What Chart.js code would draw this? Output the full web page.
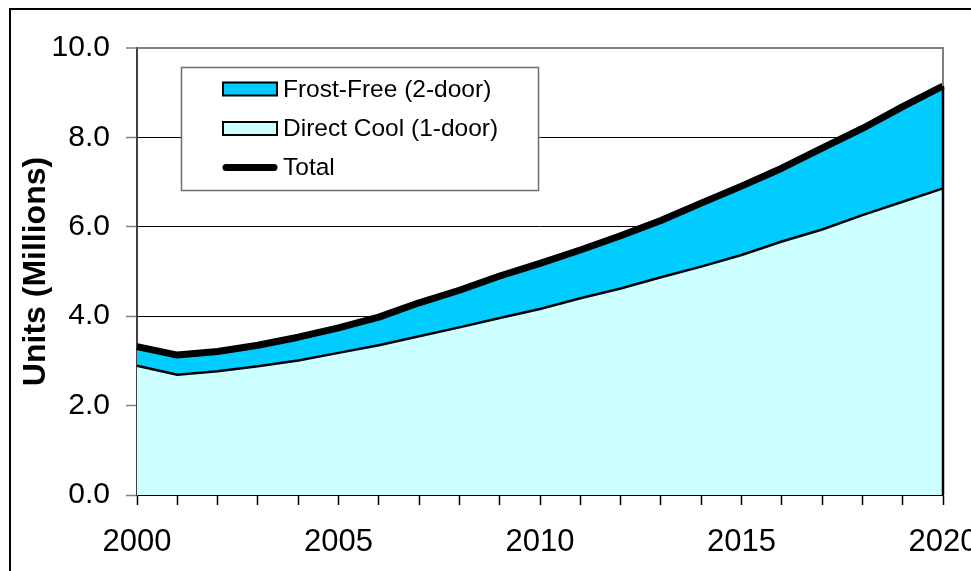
<!DOCTYPE html>
<html>
<head>
<meta charset="utf-8">
<title>Refrigerator Sales by Type</title>
<script src="https://cdn.jsdelivr.net/npm/chart.js@4.4.1/dist/chart.umd.min.js"></script>
<style>
  html, body { margin: 0; padding: 0; background: #ffffff; }
  #wrap { width: 971px; height: 571px; position: relative; }
</style>
</head>
<body>
<div id="wrap"><canvas id="chart" width="971" height="571"></canvas></div>
<script>
// Annual refrigerator unit sales, millions
const years = [2000, 2001, 2002, 2003, 2004, 2005, 2006, 2007, 2008, 2009, 2010,
               2011, 2012, 2013, 2014, 2015, 2016, 2017, 2018, 2019, 2020];
const directCool = [2.89, 2.69, 2.77, 2.88, 3.01, 3.18, 3.35, 3.55, 3.75, 3.96, 4.16,
                    4.40, 4.62, 4.87, 5.11, 5.37, 5.67, 5.94, 6.26, 6.56, 6.86];
const frostFree  = [0.43, 0.44, 0.44, 0.47, 0.52, 0.56, 0.63, 0.75, 0.83, 0.94, 1.02,
                    1.08, 1.18, 1.27, 1.42, 1.54, 1.64, 1.82, 1.94, 2.13, 2.29];
const total      = [3.32, 3.13, 3.21, 3.35, 3.53, 3.74, 3.98, 4.30, 4.58, 4.90, 5.18,
                    5.48, 5.80, 6.14, 6.53, 6.91, 7.31, 7.76, 8.20, 8.69, 9.15];
const yAxisTitle = 'Units (Millions)';
const seriesLabels = ['Direct Cool (1-door)', 'Frost-Free (2-door)', 'Total'];

Chart.defaults.font.family = "'Liberation Sans', Arial, sans-serif";
Chart.defaults.color = '#000000';

// Outer frame, plot border, area edge at the last year, and the boxed key
const framePlugin = {
  id: 'frame',
  afterDraw(chart) {
    const { ctx, chartArea: a, scales: { x, y } } = chart;
    ctx.save();

    // plot border (top and right)
    ctx.strokeStyle = '#808080';
    ctx.lineWidth = 2;
    ctx.beginPath();
    ctx.moveTo(a.left, a.top);
    ctx.lineTo(a.right, a.top);
    ctx.lineTo(a.right, a.bottom);
    ctx.stroke();

    // outline of the stacked areas at the final year
    const last = years.length - 1;
    const xe = x.getPixelForValue(last);
    ctx.strokeStyle = '#000000';
    ctx.lineWidth = 2.5;
    ctx.beginPath();
    ctx.moveTo(xe, y.getPixelForValue(total[last]));
    ctx.lineTo(xe, a.bottom);
    ctx.stroke();

    // outer chart frame
    ctx.strokeStyle = '#000000';
    ctx.lineWidth = 2;
    ctx.beginPath();
    ctx.moveTo(10, chart.height);
    ctx.lineTo(10, 9);
    ctx.lineTo(chart.width, 9);
    ctx.stroke();

    // key box
    const bx = 181, by = 67, bw = 357, bh = 123;
    ctx.fillStyle = '#ffffff';
    ctx.fillRect(bx, by, bw, bh);
    ctx.strokeStyle = '#6e6e6e';
    ctx.lineWidth = 1.5;
    ctx.strokeRect(bx + 0.5, by + 0.5, bw, bh);

    const ds = chart.data.datasets;
    const entries = [ds[1], ds[0], ds[2]];
    const rows = [89, 128.5, 167.5];
    ctx.font = "24.5px 'Liberation Sans', Arial, sans-serif";
    ctx.textBaseline = 'middle';
    ctx.textAlign = 'left';
    entries.forEach((d, i) => {
      const cy = rows[i];
      if (d.fill === false) {
        ctx.strokeStyle = d.borderColor;
        ctx.lineWidth = 7;
        ctx.lineCap = 'round';
        ctx.beginPath();
        ctx.moveTo(226, cy);
        ctx.lineTo(274, cy);
        ctx.stroke();
        ctx.lineCap = 'butt';
      } else {
        ctx.fillStyle = d.backgroundColor;
        ctx.fillRect(223, cy - 6.5, 54, 13);
        ctx.strokeStyle = '#000000';
        ctx.lineWidth = 2;
        ctx.strokeRect(223, cy - 6.5, 54, 13);
      }
      ctx.fillStyle = '#000000';
      ctx.fillText(d.label, 283, cy + 1);
    });
    ctx.restore();
  }
};

new Chart(document.getElementById('chart').getContext('2d'), {
  type: 'line',
  data: {
    labels: years.map(String),
    datasets: [
      {
        label: seriesLabels[0], data: directCool, stack: 'types',
        fill: 'origin', backgroundColor: '#CCFFFF',
        borderColor: '#000000', borderWidth: 2.5, pointRadius: 0, order: 1
      },
      {
        label: seriesLabels[1], data: frostFree, stack: 'types',
        fill: '-1', backgroundColor: '#00CCFF',
        borderColor: '#000000', borderWidth: 2, pointRadius: 0, order: 2
      },
      {
        label: seriesLabels[2], data: total, stack: 'sum',
        fill: false, borderColor: '#000000', borderWidth: 7, pointRadius: 0, order: 0
      }
    ]
  },
  options: {
    responsive: false,
    animation: false,
    devicePixelRatio: 1,
    layout: { padding: { left: 0, top: 48, right: 28, bottom: 0 } },
    elements: { line: { tension: 0, borderJoinStyle: 'round' } },
    plugins: { legend: { display: false }, tooltip: { enabled: false } },
    scales: {
      x: {
        type: 'category',
        offset: false,
        grid: {
          display: true, drawOnChartArea: false, drawTicks: true,
          tickLength: 10, tickColor: '#000000', tickWidth: 1.5
        },
        border: { display: true, color: '#000000', width: 2 },
        ticks: {
          autoSkip: false, maxRotation: 0, minRotation: 0, padding: 19,
          color: '#000000', font: { size: 31 },
          callback: (v, i) => (years[i] % 5 === 0 ? String(years[i]) : '')
        },
        afterFit(s) { s.height = 76; s.paddingLeft = 0; s.paddingRight = 0; }
      },
      y: {
        stacked: true,
        min: 0, max: 10,
        ticks: {
          stepSize: 2, padding: 16, color: '#000000', font: { size: 30 },
          callback: v => Number(v).toFixed(1)
        },
        grid: {
          color: c => (c.tick && c.tick.value === 10 ? '#808080' : '#000000'),
          lineWidth: c => (c.tick && c.tick.value === 10 ? 2 : 1),
          tickLength: 11, tickColor: '#808080', tickWidth: 1.5
        },
        border: { display: true, color: '#404040', width: 2 },
        title: {
          display: true, text: yAxisTitle, color: '#000000',
          font: { size: 32, weight: 'bold' }, padding: { top: 17, bottom: 0 }
        },
        afterFit(s) { s.width = 137; s.paddingTop = 0; s.paddingBottom = 0; }
      }
    }
  },
  plugins: [framePlugin]
});
</script>
</body>
</html>
